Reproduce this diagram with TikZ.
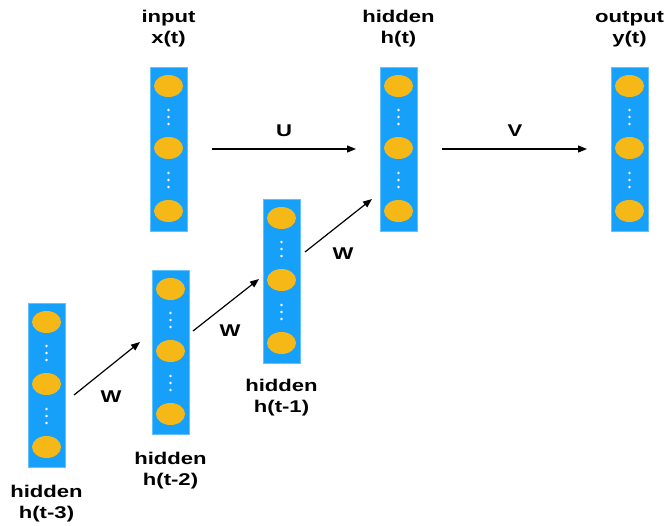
\documentclass[tikz,border=0pt]{standalone}
\usepackage{fontspec}
\usepackage{graphicx}
\setmainfont{Liberation Sans}
\usetikzlibrary{arrows.meta,shapes.geometric}
\definecolor{barblue}{HTML}{17A0FA}
\definecolor{baredge}{HTML}{62C0FF}
\definecolor{unitorange}{HTML}{F6B816}
\newcommand{\widetext}[1]{\scalebox{1.3}[1]{#1}}
\tikzset{
  x=1pt, y=1pt,
  bar/.style={rectangle, fill=barblue, draw=baredge, line width=0.8pt,
    minimum width=37pt, minimum height=164pt, inner sep=0pt},
  unit/.style={ellipse, fill=unitorange, minimum width=29pt,
    minimum height=22pt, inner sep=0pt},
  wdot/.style={circle, fill=white, minimum size=2.6pt, inner sep=0pt},
  lbl/.style={font=\bfseries\fontsize{17}{21}\selectfont, align=center, inner sep=0pt},
  wt/.style={font=\bfseries\fontsize{17}{21}\selectfont, inner sep=0pt},
  conn/.style={line width=1.2pt, -{Triangle[length=9pt,width=7pt]}},
  column/.pic={
    \node[bar] (-bar) at (0,-82) {};
    \node[unit] (-e1) at (0,-19) {};
    \node[unit] (-e2) at (0,-81) {};
    \node[unit] (-e3) at (0,-144) {};
    \foreach \d in {43,50,57,106,113,120}
      \node[wdot] at (0,-\d) {};
  }
}
\begin{document}
\begin{tikzpicture}
\useasboundingbox[fill=white] (0,0) rectangle (666,-525);

% layers (top edge of each bar)
\pic (x)  at (168.5,-67)  {column};
\pic (h)  at (398.5,-67)  {column};
\pic (y)  at (629.5,-67)  {column};
\pic (h1) at (281.5,-199) {column};
\pic (h2) at (170.5,-270) {column};
\pic (h3) at (46.5,-303)  {column};

% layer captions
\node[lbl] (xl)  at (168.5,-29)  {\widetext{input}\\\widetext{x(t)}};
\node[lbl] (hl)  at (398.5,-29)  {\widetext{hidden}\\\widetext{h(t)}};
\node[lbl] (yl)  at (629.5,-29)  {\widetext{output}\\\widetext{y(t)}};
\node[lbl] (h1l) at (281.5,-398) {\widetext{hidden}\\\widetext{h(t-1)}};
\node[lbl] (h2l) at (170.5,-470.5) {\widetext{hidden}\\\widetext{h(t-2)}};
\node[lbl] (h3l) at (46.5,-503.5) {\widetext{hidden}\\\widetext{h(t-3)}};

% connector end points
\coordinate (us) at (212,-149);  \coordinate (ue) at (356,-149);
\coordinate (vs) at (442,-149);  \coordinate (ve) at (587,-149);
\coordinate (w1s) at (74,-395);  \coordinate (w1e) at (140,-342);
\coordinate (w2s) at (193,-331); \coordinate (w2e) at (259,-279);
\coordinate (w3s) at (305,-252); \coordinate (w3e) at (372,-199);

\draw[conn] (us) -- (ue);
\draw[conn] (vs) -- (ve);
\draw[conn] (w1s) -- (w1e);
\draw[conn] (w2s) -- (w2e);
\draw[conn] (w3s) -- (w3e);

% weight labels
\node[wt] (ul)  at (284,-131) {\widetext{U}};
\node[wt] (vl)  at (515,-131) {\widetext{V}};
\node[wt] (w1l) at (111,-397) {\widetext{W}};
\node[wt] (w2l) at (230,-331) {\widetext{W}};
\node[wt] (w3l) at (343,-254) {\widetext{W}};
\end{tikzpicture}
\end{document}
